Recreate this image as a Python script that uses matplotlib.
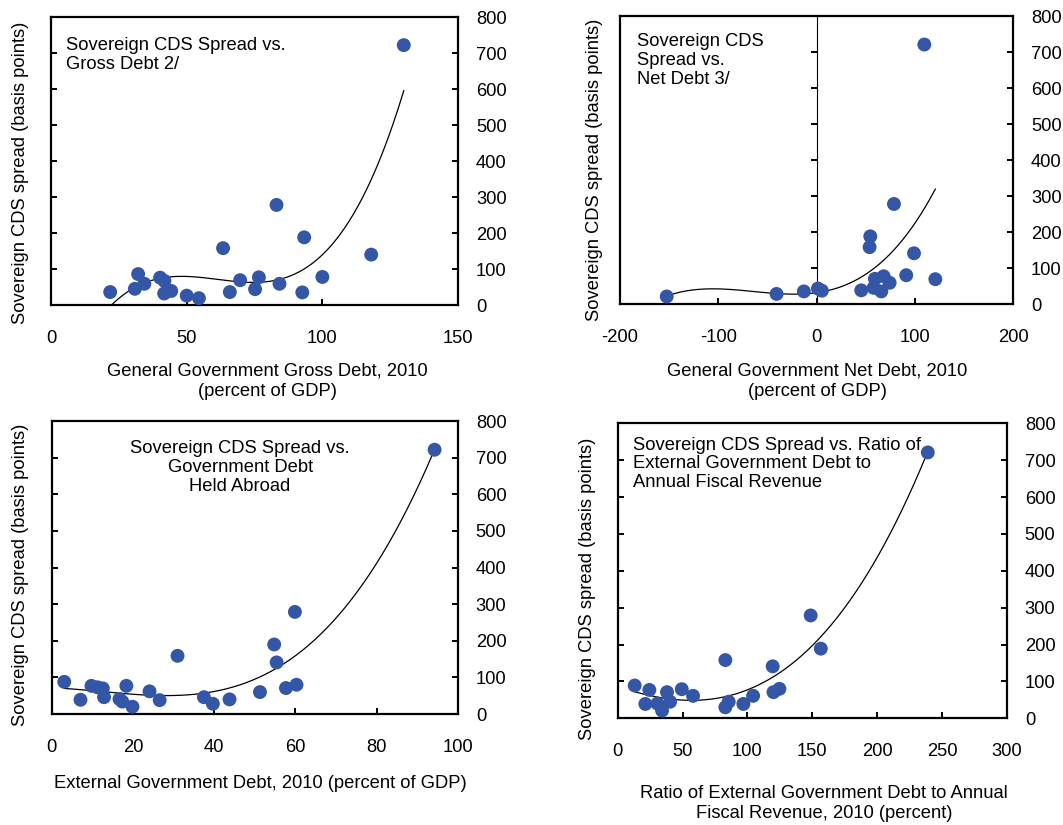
import numpy as np
import matplotlib
matplotlib.use('Agg')
import matplotlib.pyplot as plt

plt.rcParams['font.family'] = ['Liberation Sans', 'DejaVu Sans']
plt.rcParams['font.size'] = 13.2
plt.rcParams['axes.unicode_minus'] = False

# CDS spreads (basis points) against four debt measures, 2010
gross_x = [130.0, 21.8, 32.1, 30.9, 34.4, 40.2, 41.8, 41.7, 44.3, 50.0, 54.5,
           63.4, 65.9, 69.7, 75.2, 76.6, 83.1, 84.2, 93.3, 92.6, 100.0, 118.0]
gross_y = [722, 36, 86, 45, 59, 76, 67, 32, 39, 26, 19,
           158, 36, 69, 44, 77, 278, 59, 188, 35, 78, 140]

net_x = [109.7, -152.5, -40.7, -12.9, 1.4, 5.4, 45.5, 54.0, 54.7,
         59.4, 58.1, 65.9, 68.3, 74.4, 78.8, 91.3, 99.2, 120.9]
net_y = [721, 21, 28, 35, 43, 37, 38, 158, 188,
         70, 45, 35, 77, 59, 278, 80, 141, 69]

ext_x = [94.3, 3.1, 7.1, 9.8, 11.3, 12.6, 12.9, 16.7, 17.4, 18.4, 19.9, 24.1,
         26.6, 31.0, 37.5, 39.7, 43.8, 51.3, 54.8, 55.4, 57.7, 59.9, 60.3]
ext_y = [722, 88, 39, 77, 73, 70, 46, 41, 34, 77, 20, 62,
         38, 159, 46, 28, 40, 60, 190, 141, 71, 279, 80]

rev_x = [239.1, 13.1, 24.4, 21.3, 30.6, 34.2, 38.0, 40.4, 49.4, 58.1,
         83.0, 83.0, 85.6, 96.9, 104.4, 119.5, 120.1, 124.7, 148.8, 156.6]
rev_y = [721, 89, 77, 39, 40, 21, 71, 45, 79, 61,
         158, 30, 45, 39, 61, 141, 71, 80, 279, 189]

y_ticks = [0, 100, 200, 300, 400, 500, 600, 700, 800]
ylab = 'Sovereign CDS spread (basis points)'
dot = '#3356A6'

fig = plt.figure(figsize=(10.63, 8.25), dpi=100)
fig.patch.set_facecolor('white')

panels = [
    dict(rect=[0.048, 0.6303, 0.3829, 0.349], x=gross_x, y=gross_y,
         xlim=(0, 150), xticks=[0, 50, 100, 150],
         xlabel='General Government Gross Debt, 2010\n(percent of GDP)',
         title='Sovereign CDS Spread vs.\nGross Debt 2/', tpos=(0.038, 0.93), ha='left',
         ylpos=(-0.053, 0.458), xlpos=(0.532, -0.2)),
    dict(rect=[0.5833, 0.6315, 0.3697, 0.349], x=net_x, y=net_y,
         xlim=(-200, 200), xticks=[-200, -100, 0, 100, 200],
         xlabel='General Government Net Debt, 2010\n(percent of GDP)',
         title='Sovereign CDS\nSpread vs.\nNet Debt 3/', tpos=(0.042, 0.94), ha='left',
         ylpos=(-0.043, 0.465), xlpos=(0.5025, -0.203)),
    dict(rect=[0.0486, 0.1345, 0.382, 0.355], x=ext_x, y=ext_y,
         xlim=(0, 100), xticks=[0, 20, 40, 60, 80, 100],
         xlabel='External Government Debt, 2010 (percent of GDP)',
         title='Sovereign CDS Spread vs.\nGovernment Debt\nHeld Abroad', tpos=(0.464, 0.935),
         ha='center', ylpos=(-0.055, 0.474), xlpos=(0.514, -0.207)),
    dict(rect=[0.5811, 0.1293, 0.366, 0.3576], x=rev_x, y=rev_y,
         xlim=(0, 300), xticks=[0, 50, 100, 150, 200, 250, 300],
         xlabel='Ratio of External Government Debt to Annual\nFiscal Revenue, 2010 (percent)',
         title='Sovereign CDS Spread vs. Ratio of\nExternal Government Debt to\nAnnual Fiscal Revenue',
         tpos=(0.04, 0.955), ha='left', ylpos=(-0.056, 0.438), xlpos=(0.530, -0.225)),
]

for i, p in enumerate(panels):
    ax = fig.add_axes(p['rect'])
    x = np.array(p['x'])
    y = np.array(p['y'])
    ax.scatter(x, y, s=100, color=dot, edgecolors='none', zorder=3)

    # cubic trend line over the observed range
    coef = np.polyfit(x, y, 3)
    xs = np.linspace(x.min(), x.max(), 300)
    ax.plot(xs, np.polyval(coef, xs), color='black', lw=0.9, zorder=2)

    ax.set_xlim(*p['xlim'])
    ax.set_ylim(0, 800)
    ax.set_xticks(p['xticks'])
    ax.set_yticks(y_ticks)
    for s in ax.spines.values():
        s.set_linewidth(1.6)
    ax.yaxis.set_ticks_position('both')
    ax.tick_params(axis='y', direction='in', length=4, width=1.4,
                   labelleft=False, labelright=True, pad=13)
    ax.tick_params(axis='x', direction='in', length=4, width=1.4, pad=18)
    if i == 1:
        ax.tick_params(axis='y', left=False)
        # value axis crossing at zero
        zero_ax = ax.secondary_yaxis(0.5)
        zero_ax.set_yticks(y_ticks)
        zero_ax.tick_params(direction='in', length=4, width=1.4, labelleft=False,
                            labelright=False)
        zero_ax.spines['left'].set_linewidth(1.4)
    ax.set_ylabel(ylab)
    ax.yaxis.set_label_position('left')
    ax.yaxis.set_label_coords(*p['ylpos'])
    ax.set_xlabel(p['xlabel'], linespacing=1.25)
    ax.xaxis.set_label_coords(*p['xlpos'])
    ax.text(p['tpos'][0], p['tpos'][1], p['title'], transform=ax.transAxes,
            ha=p['ha'], va='top', linespacing=1.13,
            multialignment='center' if p['ha'] == 'center' else 'left')

fig.savefig('out.png', dpi=100, facecolor='white')
